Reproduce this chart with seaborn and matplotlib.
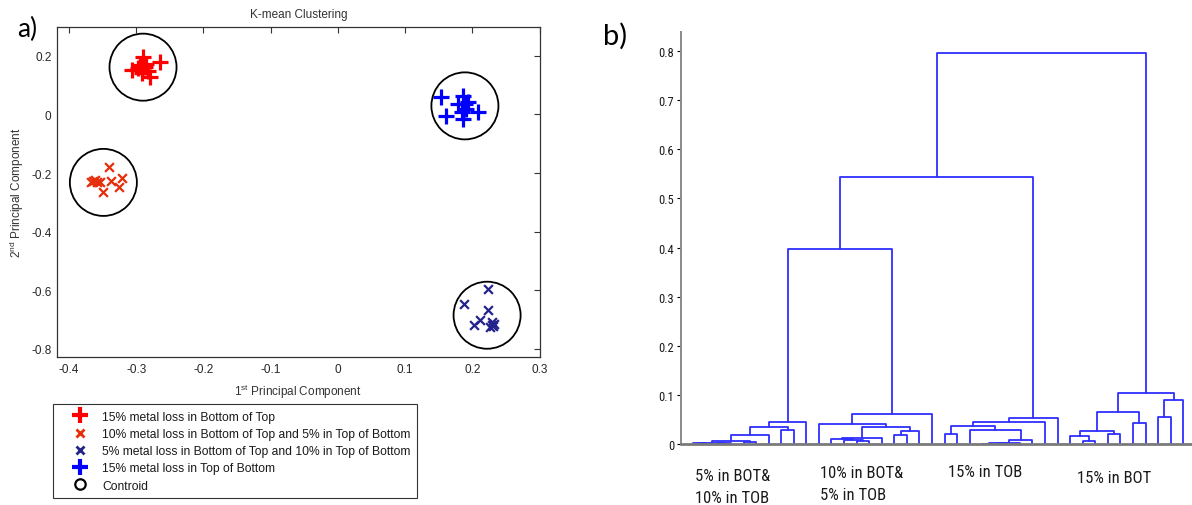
import numpy as np
import pandas as pd
import matplotlib
matplotlib.use("Agg")
import matplotlib.pyplot as plt
from matplotlib.lines import Line2D
from matplotlib import font_manager
import seaborn as sns

sns.set_theme(style="white")
plt.rcParams["font.family"] = ["Liberation Sans", "DejaVu Sans"]
plt.rcParams["mathtext.fontset"] = "custom"
plt.rcParams["mathtext.rm"] = "Liberation Sans"
plt.rcParams["mathtext.it"] = "Liberation Sans:italic"

_names = {f.name for f in font_manager.fontManager.ttflist}


def pick(*cands):
    for c in cands:
        if c in _names:
            return c
    return "DejaVu Sans"


NARROW = pick("Liberation Sans Narrow", "Roboto Condensed", "DejaVu Sans Condensed", "Liberation Sans")
LABEL = pick("Roboto Condensed", "Liberation Sans Narrow", "DejaVu Sans Condensed", "Lato")
PANEL = pick("Lato", "Open Sans", "Liberation Sans")

# ---------------- PCA scores (K-means panel) ----------------
groups = [
    "15% metal loss in Bottom of Top",
    "10% metal loss in Bottom of Top and 5% in Top of Bottom",
    "5% metal loss in Bottom of Top and 10% in Top of Bottom",
    "15% metal loss in Top of Bottom",
]
bot15_pc1 = [-0.265, -0.307, -0.290, -0.280, -0.295, -0.287, -0.282, -0.291, -0.298, -0.285]
bot15_pc2 = [0.180, 0.152, 0.195, 0.126, 0.168, 0.160, 0.148, 0.142, 0.158, 0.172]
mix10_5_pc1 = [-0.340, -0.364, -0.359, -0.354, -0.350, -0.337, -0.321, -0.326, -0.368, -0.362]
mix10_5_pc2 = [-0.181, -0.226, -0.232, -0.230, -0.266, -0.226, -0.218, -0.249, -0.232, -0.223]
mix5_10_pc1 = [0.223, 0.187, 0.224, 0.212, 0.202, 0.229, 0.231, 0.227, 0.233, 0.230]
mix5_10_pc2 = [-0.596, -0.647, -0.667, -0.700, -0.717, -0.709, -0.723, -0.726, -0.715, -0.720]
tob15_pc1 = [0.153, 0.161, 0.186, 0.189, 0.185, 0.179, 0.209, 0.194, 0.186, 0.191]
tob15_pc2 = [0.058, -0.005, 0.063, 0.035, 0.007, 0.035, 0.007, 0.041, -0.016, 0.018]
centroid_pc1 = [-0.290, -0.349, 0.222, 0.189]
centroid_pc2 = [0.161, -0.232, -0.685, 0.029]

group_colors = ["#ff0000", "#e62e0a", "#23238c", "#0000ff"]
group_markers = ["+", "x", "x", "+"]

# ---------------- hierarchical clustering (dendrogram panel) ----------------
n_leaves = 40
link_left = [0, 2, 40, 4, 42, 44, 7, 45, 47,
             13, 12, 11, 51, 16, 53, 52, 10, 56,
             20, 23, 59, 60, 61, 22, 58, 64, 65,
             31, 30, 33, 68, 35, 70, 37, 73, 72,
             48, 76, 77]
link_right = [1, 3, 41, 5, 43, 6, 8, 46, 9,
              14, 49, 50, 15, 17, 18, 54, 55, 19,
              21, 24, 25, 26, 27, 62, 63, 28, 29,
              32, 67, 34, 69, 36, 71, 38, 39, 74,
              57, 66, 75]
link_height = [0.0015, 0.002, 0.003, 0.005, 0.007, 0.019, 0.0285, 0.035, 0.044,
               0.006, 0.009, 0.0105, 0.012, 0.019, 0.027, 0.034, 0.041, 0.061,
               0.020, 0.001, 0.002, 0.003, 0.0088, 0.029, 0.037, 0.0455, 0.053,
               0.0068, 0.017, 0.020, 0.027, 0.042, 0.0645, 0.0556, 0.090, 0.103,
               0.397, 0.543, 0.797]
cluster_names = [["5% in BOT&", "10% in TOB"], ["10% in BOT&", "5% in TOB"],
                 ["15% in TOB"], ["15% in BOT"]]

W, H = 1192, 506
fig = plt.figure(figsize=(W / 100, H / 100), dpi=100)


def fx(px):
    return px / W


def fy(py):
    return 1 - py / H


# ---------------- panel a ----------------
ax = fig.add_axes([fx(57), fy(358.3), fx(539.5 - 57), (358.3 - 28) / H])
series = [(bot15_pc1, bot15_pc2), (mix10_5_pc1, mix10_5_pc2),
          (mix5_10_pc1, mix5_10_pc2), (tob15_pc1, tob15_pc2)]
for (px_, py_), col, mk in zip(series, group_colors, group_markers):
    if mk == "+":
        sns.scatterplot(x=px_, y=py_, marker="+", s=117, color=col, linewidth=2.3,
                        legend=False, ax=ax, zorder=3)
    else:
        sns.scatterplot(x=px_, y=py_, marker="x", s=40, color=col, linewidth=1.6,
                        legend=False, ax=ax, zorder=3)
sns.scatterplot(x=centroid_pc1, y=centroid_pc2, marker="o", s=2330, facecolor="none",
                edgecolor="black", linewidth=1.3, legend=False, ax=ax, zorder=4)

ax.set_xlim(-0.418, 0.2997)
ax.set_ylim(-0.8285, 0.298)
ax.set_xticks(np.round(np.arange(-0.4, 0.31, 0.1), 1))
ax.set_xticklabels(["-0.4", "-0.3", "-0.2", "-0.1", "0", "0.1", "0.2", "0.3"])
ax.set_yticks(np.round(np.arange(-0.8, 0.21, 0.2), 1))
ax.set_yticklabels(["-0.8", "-0.6", "-0.4", "-0.2", "0", "0.2"])
ax.tick_params(direction="in", length=4, width=0.8, color="#333333", top=True, right=True,
               labelsize=8.5, labelcolor="#262626", pad=4)
for sp in ax.spines.values():
    sp.set_color("#333333")
    sp.set_linewidth(0.9)
ax.set_title("K-mean Clustering", fontsize=8.5, color="#333333", pad=7)
ax.set_xlabel(r"1$^{\rm st}$ Principal Component", fontsize=8.5, color="#333333", labelpad=5)
ax.set_ylabel(r"2$^{\rm nd}$ Principal Component", fontsize=8.5, color="#333333", labelpad=4)

handles = [
    Line2D([], [], ls="none", marker="+", ms=11, mew=3, color=group_colors[0]),
    Line2D([], [], ls="none", marker="x", ms=6, mew=2, color=group_colors[1]),
    Line2D([], [], ls="none", marker="x", ms=6, mew=2, color=group_colors[2]),
    Line2D([], [], ls="none", marker="+", ms=11, mew=3, color=group_colors[3]),
    Line2D([], [], ls="none", marker="o", ms=7.5, mfc="none", mec="black", mew=1.6),
]
leg = fig.legend(handles, groups + ["Controid"], loc="upper left",
                 bbox_to_anchor=(fx(53), fy(405)), bbox_transform=fig.transFigure,
                 frameon=True, fancybox=False, edgecolor="black", fontsize=8.75,
                 handlelength=3.34, handletextpad=0.14, borderpad=0.55, labelspacing=0.43,
                 borderaxespad=0)
leg.get_frame().set_linewidth(0.8)
for t in leg.get_texts():
    t.set_color("#1a1a1a")

fig.text(fx(17), fy(37), "a)", fontsize=19, family=PANEL, color="black")

# ---------------- panel b ----------------
ax2 = fig.add_axes([fx(681), fy(445), fx(W - 681), (445 - 33) / H])
pos = {i: float(i) for i in range(n_leaves)}
hgt = {i: 0.0 for i in range(n_leaves)}
seg = []
for k, (a, b, h) in enumerate(zip(link_left, link_right, link_height)):
    xa, xb = pos[a], pos[b]
    seg += [(k, 0, xa, hgt[a]), (k, 1, xa, h), (k, 2, xb, h), (k, 3, xb, hgt[b])]
    pos[n_leaves + k] = (xa + xb) / 2
    hgt[n_leaves + k] = h
seg = pd.DataFrame(seg, columns=["link", "step", "x", "y"])
sns.lineplot(data=seg, x="x", y="y", units="link", estimator=None, sort=False,
             color="#2f2fff", linewidth=1.3, ax=ax2)

ax2.set_xlim(-0.98, 39.7)
ax2.set_ylim(0, 0.839)
ax2.set_yticks(np.round(np.arange(0, 0.81, 0.1), 1))
ax2.set_yticklabels(["0"] + [f"{v:.1f}" for v in np.arange(0.1, 0.81, 0.1)],
                    family=[NARROW, "Liberation Sans"])
ax2.set_xticks([])
ax2.set_xlabel("")
ax2.set_ylabel("")
ax2.tick_params(axis="y", direction="out", left=True, length=3, width=0.8, color="black",
                labelsize=9, labelcolor="#1a1a1a", pad=2)
for side in ("top", "right"):
    ax2.spines[side].set_visible(False)
ax2.spines["left"].set_color("#8a8a8a")
ax2.spines["left"].set_linewidth(1.4)
ax2.spines["bottom"].set_color("#7a7a7a")
ax2.spines["bottom"].set_linewidth(2.0)

label_lines = [(cluster_names[0][0], 695, 481), (cluster_names[0][1], 695, 503),
               (cluster_names[1][0], 820, 478), (cluster_names[1][1], 820, 500),
               (cluster_names[2][0], 948, 477),
               (cluster_names[3][0], 1077, 483)]
for txt, px_, py_ in label_lines:
    fig.text(fx(px_), fy(py_), txt, fontsize=12, family=[LABEL, "DejaVu Sans"],
             color="#1a1a1a", ha="left", va="baseline")

fig.text(fx(603), fy(45), "b)", fontsize=21, family=PANEL, color="black")

fig.savefig("out.png", dpi=100)
